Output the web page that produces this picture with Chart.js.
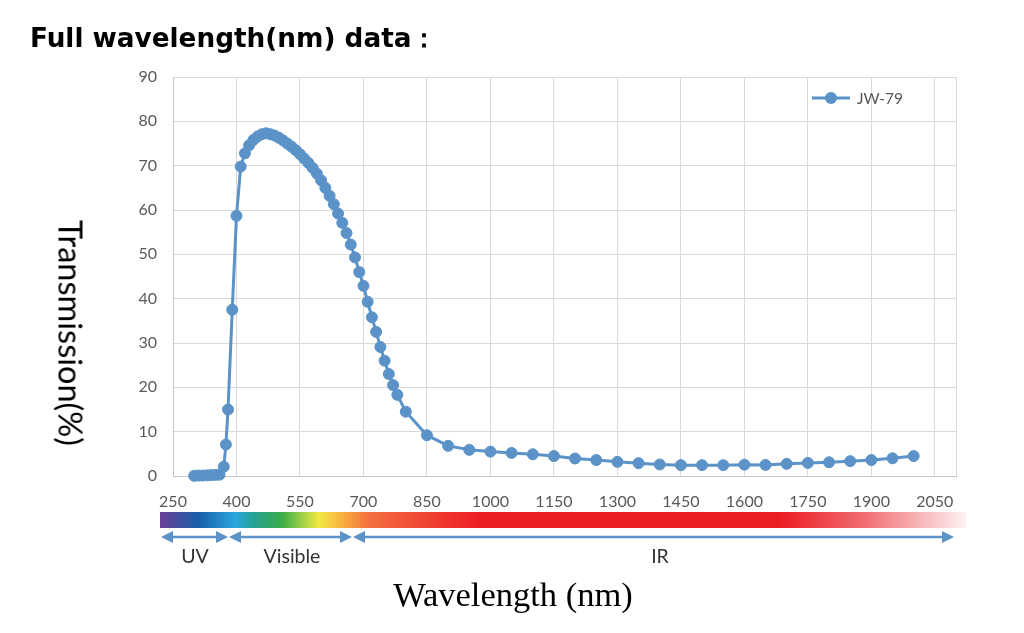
<!DOCTYPE html>
<html>
<head>
<meta charset="utf-8">
<script src="https://cdn.jsdelivr.net/npm/chart.js"></script>
<style>
    body { margin: 0; background: #fff; }
    #wrap { position: relative; width: 1024px; height: 633px; overflow: hidden; }
    #chart { position: absolute; left: 0; top: 0; }
    .txt { position: absolute; white-space: nowrap; line-height: 1; }
    #title { left: 30px; top: 21px; font: bold 26.3px "DejaVu Sans", sans-serif; color: #000; }
    #ylabel { left: 71px; top: 333px; font: 32.5px Lato, sans-serif; color: #000;
              transform: translate(-50%, -50%) rotate(90deg); }
    #xlabel { left: 513px; top: 594px; font: 34.5px "Liberation Serif", serif; color: #000;
              transform: translate(-50%, -50%); }
    .band { top: 555px; font: 19.5px Lato, sans-serif; color: #333; transform: translate(-50%, -50%); }
</style>
</head>
<body>
<div id="wrap">
    <canvas id="chart" width="1024" height="633"></canvas>
    <div class="txt" id="title">Full wavelength(nm) data：</div>
    <div class="txt" id="ylabel">Transmission(%)</div>
    <div class="txt band" style="left:195px">UV</div>
    <div class="txt band" style="left:292px">Visible</div>
    <div class="txt band" style="left:660px">IR</div>
    <div class="txt" id="xlabel">Wavelength (nm)</div>
</div>
<script>
const seriesName = 'JW-79';
const wavelengths = [
    300, 310, 320, 330, 340, 350, 360, 370, 375, 380, 390,
    400, 410, 420, 430, 440, 450, 460, 470, 480, 490,
    500, 510, 520, 530, 540, 550, 560, 570, 580, 590,
    600, 610, 620, 630, 640, 650, 660, 670, 680, 690,
    700, 710, 720, 730, 740, 750, 760, 770, 780, 800,
    850, 900, 950, 1000, 1050, 1100, 1150, 1200, 1250, 1300,
    1350, 1400, 1450, 1500, 1550, 1600, 1650, 1700, 1750, 1800,
    1850, 1900, 1950, 2000
];
const transmission = [
    0.05, 0.1, 0.1, 0.15, 0.2, 0.25, 0.3, 2.1, 7.1, 15.0, 37.5,
    58.7, 69.8, 72.8, 74.6, 75.8, 76.6, 77.1, 77.3, 77.1, 76.8,
    76.3, 75.7, 75.0, 74.3, 73.5, 72.6, 71.6, 70.6, 69.5, 68.2,
    66.7, 65.0, 63.2, 61.3, 59.2, 57.1, 54.8, 52.2, 49.3, 46.0,
    42.9, 39.3, 35.8, 32.5, 29.1, 26.0, 23.0, 20.5, 18.3, 14.5,
    9.2, 6.8, 5.9, 5.5, 5.2, 4.9, 4.5, 3.95, 3.6, 3.2,
    2.9, 2.6, 2.45, 2.45, 2.45, 2.55, 2.5, 2.75, 2.95, 3.1,
    3.35, 3.6, 4.0, 4.5
];
const xTickLabels = [250, 400, 550, 700, 850, 1000, 1150, 1300, 1450, 1600, 1750, 1900, 2050];
const xMax = 2100;

const lineColor = '#5b93c8';
const gridColor = '#d9d9d9';
const tickColor = '#595959';

// spectrum strip under the axis
const spectrumStops = [
    [0, '#6a3f98'], [0.047, '#1a5ea8'], [0.093, '#2aa7df'], [0.118, '#26a28e'],
    [0.152, '#3bad48'], [0.197, '#f4ea45'], [0.226, '#f8b040'], [0.259, '#f37040'],
    [0.345, '#ef3a2e'], [0.4, '#ec1d25'], [0.77, '#ec1c24'], [0.87, '#f06a6e'], [1, '#fdf1f1']
];
const bandArrows = [[161, 228], [229, 352], [353, 954]];

const spectrumPlugin = {
    id: 'spectrum',
    afterDraw(chart) {
        const ctx = chart.ctx;
        const x0 = 160, x1 = 966, y0 = 512, h = 16;
        ctx.save();
        const g = ctx.createLinearGradient(x0, 0, x1, 0);
        spectrumStops.forEach(s => g.addColorStop(s[0], s[1]));
        ctx.fillStyle = g;
        ctx.fillRect(x0, y0, x1 - x0, h);

        const ay = 537;
        ctx.strokeStyle = lineColor;
        ctx.fillStyle = lineColor;
        ctx.lineWidth = 2.5;
        bandArrows.forEach(([a, b]) => {
            ctx.beginPath();
            ctx.moveTo(a + 8, ay);
            ctx.lineTo(b - 8, ay);
            ctx.stroke();
            ctx.beginPath();
            ctx.moveTo(a, ay); ctx.lineTo(a + 12, ay - 6); ctx.lineTo(a + 12, ay + 6); ctx.closePath();
            ctx.fill();
            ctx.beginPath();
            ctx.moveTo(b, ay); ctx.lineTo(b - 12, ay - 6); ctx.lineTo(b - 12, ay + 6); ctx.closePath();
            ctx.fill();
        });

        // legend
        const ds = chart.data.datasets[0];
        const lx = 812, ly = 98;
        ctx.lineWidth = 3;
        ctx.beginPath();
        ctx.moveTo(lx, ly); ctx.lineTo(lx + 38, ly);
        ctx.stroke();
        ctx.beginPath();
        ctx.arc(lx + 19, ly, 6, 0, Math.PI * 2);
        ctx.fill();
        ctx.fillStyle = tickColor;
        ctx.font = '15.5px Lato, sans-serif';
        ctx.textBaseline = 'middle';
        ctx.fillText(ds.label, lx + 45, ly + 1);
        ctx.restore();
    }
};

new Chart(document.getElementById('chart'), {
    type: 'line',
    data: {
        datasets: [{
            label: seriesName,
            data: wavelengths.map((w, i) => ({ x: w, y: transmission[i] })),
            borderColor: lineColor,
            backgroundColor: lineColor,
            borderWidth: 3,
            pointRadius: 5.5,
            pointBorderWidth: 1,
            pointBackgroundColor: lineColor,
            pointBorderColor: lineColor,
            tension: 0,
            clip: false
        }]
    },
    options: {
        responsive: false,
        animation: false,
        devicePixelRatio: 1,
        layout: { padding: { left: 0, right: 68, top: 77, bottom: 117 } },
        plugins: {
            legend: { display: false },
            tooltip: { enabled: false }
        },
        scales: {
            x: {
                type: 'linear',
                min: 250,
                max: xMax,
                afterBuildTicks: s => { s.ticks = xTickLabels.concat([xMax]).map(v => ({ value: v })); },
                afterFit: s => { s.height = 40; },
                ticks: {
                    autoSkip: false,
                    maxRotation: 0,
                    padding: 16,
                    color: tickColor,
                    font: { family: 'Lato', size: 16 },
                    callback: v => xTickLabels.includes(v) ? String(v) : ''
                },
                grid: { color: gridColor, drawTicks: false },
                border: { color: '#c6c6c6' }
            },
            y: {
                min: 0,
                max: 90,
                afterFit: s => { s.width = 173; },
                ticks: {
                    stepSize: 10,
                    padding: 16,
                    color: tickColor,
                    font: { family: 'Lato', size: 16 }
                },
                grid: { color: gridColor, drawTicks: false },
                border: { color: '#c6c6c6' }
            }
        }
    },
    plugins: [spectrumPlugin]
});
</script>
</body>
</html>
